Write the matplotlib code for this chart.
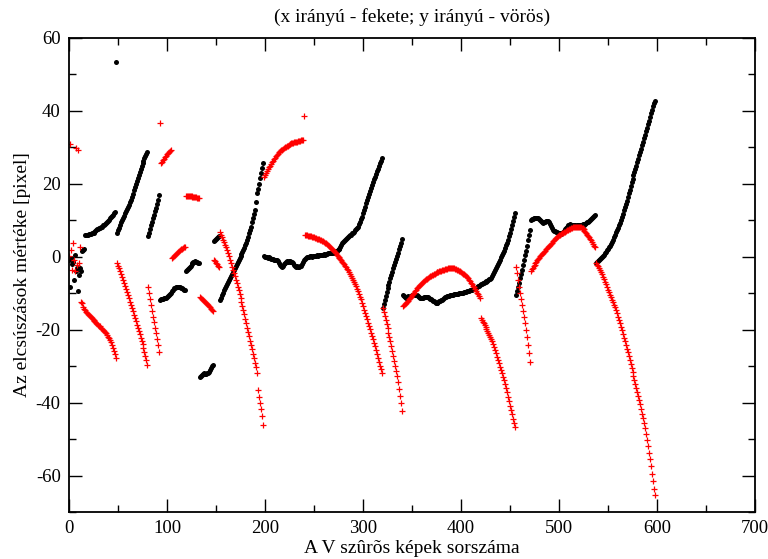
import numpy as np
import matplotlib
matplotlib.use("Agg")
import matplotlib.pyplot as plt
from matplotlib.ticker import MultipleLocator

# x offsets (black), one value per frame, split where the run breaks
x_start = [-1.0, -8.3, -0.4, -2.0, -1.3, -6.3, 0.5, -4.0, -3.0, -9.5, -5.0, -3.1, -4.0, 1.5, 1.8, 2.0]
x_b = [6.0, 6.0, 6.1, 6.1, 6.2, 6.2, 6.3, 6.4, 6.5, 6.6,
       6.8, 7.1, 7.4, 7.6, 7.7, 7.8, 7.9, 8.1, 8.3, 8.6,
       8.8, 9.1, 9.3, 9.6, 9.9, 10.2, 10.5, 10.9, 11.2, 11.5,
       11.9, 12.3]
x_spike = [53.5]
x_c = [6.6, 7.3, 8.0, 8.7, 9.4, 10.1, 10.7, 11.3, 11.9, 12.5,
       13.1, 13.7, 14.3, 14.9, 15.6, 16.4, 17.3, 18.2, 19.1, 20.0,
       20.9, 21.7, 22.5, 23.3, 24.1, 24.9, 25.7, 26.4, 27.1, 27.7,
       28.2, 28.6]
x_d = [5.6, 6.6, 7.6, 8.6, 9.6, 10.5, 11.5, 12.5, 13.5, 14.6, 15.7, 16.9]
x_e = [-11.8, -11.7, -11.6, -11.5, -11.4, -11.3, -11.2, -11.0, -10.7, -10.4,
       -10.1, -9.8, -9.4, -9.0, -8.7, -8.5, -8.4, -8.3, -8.2, -8.2,
       -8.3, -8.5, -8.7, -8.9, -9.0, -9.1]
x_f = [-3.9, -3.6, -3.3, -3.0, -2.7, -2.4, -2.1, -1.8, -1.5, -1.3, -1.2, -1.3, -1.5, -1.6, -1.7]
x_g = [-32.9, -32.6, -32.3, -32.2, -32.0, -32.1, -32.2, -32.0, -31.8, -31.5, -31.0, -30.5, -30.0, -29.6]
x_h = [4.2, 4.5, 4.8, 5.1, 5.4, 5.7]
x_i = [-11.8, -11.2, -10.5, -9.9, -9.2, -8.6, -8.0, -7.5, -6.9, -6.4,
       -5.8, -5.2, -4.7, -4.1, -3.6, -3.1, -2.6, -2.0, -1.5, -1.0,
       -0.4, 0.2, 0.7, 1.3, 1.9, 2.5, 3.2, 3.8, 4.5, 5.4,
       6.4, 7.3, 8.3, 9.4, 10.6, 11.7, 12.9, 14.9, 17.6, 18.7,
       19.9, 21.5, 23.0, 24.4, 25.7]
x_jk = [0.1, 0.0, -0.1, -0.2, -0.3, -0.2, -0.4, -0.6, -0.5, -0.7, -0.8,
        -0.8, -0.9, -0.8, -1.2, -1.8, -2.3, -2.6, -2.7, -2.4, -2.0,
        -1.6, -1.3, -1.2, -1.3, -1.1, -1.2, -1.4, -1.5, -1.5, -1.8,
        -2.2, -2.5, -2.7, -2.6, -2.8, -2.7, -2.5, -2.4, -1.9, -1.3,
        -0.8, -0.5, -0.3, -0.2, -0.1, 0.0, 0.1, 0.1, 0.0, 0.2,
        0.2, 0.3, 0.2, 0.4, 0.3, 0.5, 0.4, 0.6, 0.5, 0.6,
        0.7, 0.6, 0.8, 0.7, 0.9, 1.0, 0.9, 1.1, 1.0, 1.2,
        1.1, 1.3, 1.5, 1.6, 1.8, 2.0, 2.1, 2.6, 3.1, 3.7,
        4.0, 4.3, 4.6, 4.8, 5.1, 5.4, 5.7, 5.9, 6.1, 6.4,
        6.6, 6.9, 7.3, 7.6, 7.9, 8.3, 8.9, 9.6, 10.3, 11.0,
        11.9, 12.8, 13.7, 14.7, 15.7, 16.5, 17.3, 18.1, 18.9, 19.7,
        20.4, 21.2, 22.0, 22.7, 23.4, 24.1, 24.8, 25.6, 26.3, 27.1]
x_l = [-14.0, -12.9, -11.8, -10.7, -9.7, -8.7, -7.7, -6.8, -5.9, -5.0,
       -4.1, -3.2, -2.3, -1.4, -0.6, 0.2, 1.1, 2.0, 2.9, 3.8, 4.8]
x_mn = [-10.5, -10.8, -11.0, -11.2, -11.0, -10.8, -10.9, -10.9, -10.7, -10.5,
        -10.4, -10.3, -10.4, -10.5, -10.4, -10.7, -11.0, -11.3, -11.4, -11.4,
        -11.2, -11.0, -10.9, -10.9, -10.9, -11.1, -11.3, -11.5, -11.7, -11.8,
        -12.0, -12.2, -12.5, -12.6, -12.7, -12.6, -12.4, -12.2, -12.0, -11.9,
        -11.8, -11.5, -11.2, -11.0, -10.9, -10.8, -10.7, -10.7, -10.6, -10.5,
        -10.4, -10.4, -10.3, -10.3, -10.2, -10.2, -10.1, -10.0, -10.0, -9.9,
        -9.9, -9.8, -9.7, -9.6, -9.6, -9.5, -9.4, -9.3, -9.2, -9.1,
        -9.0, -8.9, -8.9, -8.7, -8.5, -8.3, -8.1, -7.9, -7.7, -7.5,
        -7.4, -7.2, -7.1, -7.0, -6.9, -6.7, -6.6, -6.4, -6.2, -6.1,
        -5.7, -5.2, -4.6, -4.1, -3.6, -3.1, -2.5, -1.9, -1.4, -0.8,
        -0.2, 0.5, 1.1, 1.7, 2.4, 3.1, 3.8, 4.7, 5.6, 6.5,
        7.6, 8.7, 9.8, 10.9, 12.0]
x_o = [-10.6, -9.5, -8.3, -7.1, -5.9, -4.7, -3.5, -2.2, -0.9, 0.4, 1.7, 3.0, 4.5, 6.0, 7.4]
x_p = [10.1, 10.3, 10.4, 10.5, 10.6, 10.6, 10.5, 10.6, 10.6, 10.3,
       10.0, 9.7, 9.4, 9.3, 9.4, 9.6, 9.7, 9.8, 9.7, 9.4,
       9.0, 8.5, 7.9, 7.4, 7.2, 7.0, 6.9, 6.7, 6.6, 6.5,
       6.4, 6.3, 6.4, 6.7, 7.1, 7.5, 7.9, 8.3, 8.6, 8.8,
       8.9, 8.8, 8.7, 8.8, 8.8, 8.6, 8.5, 8.6, 8.7, 8.8,
       8.8, 8.7, 8.8, 8.9, 8.8, 8.9, 9.1, 9.3, 9.5, 9.6,
       9.8, 10.0, 10.3, 10.6, 10.9, 11.2, 11.4]
x_q = [-1.7, -1.5, -1.2, -0.9, -0.6, -0.3, 0.0, 0.3, 0.6, 1.0,
       1.4, 1.8, 2.2, 2.6, 3.0, 3.5, 4.1, 4.7, 5.3, 6.0,
       6.7, 7.3, 8.0, 8.6, 9.3, 10.1, 10.9, 11.8, 12.7, 13.6,
       14.5, 15.4, 16.4, 17.4, 18.4, 19.4, 20.4, 21.3, 22.3, 23.2,
       24.1, 25.0, 25.9, 26.9, 27.8, 28.7, 29.6, 30.6, 31.5, 32.5,
       33.4, 34.4, 35.3, 36.3, 37.3, 38.3, 39.3, 40.3, 41.3, 42.1,
       42.6]

# y offsets (red)
y_start = [0.1, 30.8, 1.9, -3.6, 3.9, -1.0, -4.0, 29.8, -2.2, 29.4, -1.7, 2.8]
y_b = [-12.5, -12.8, -13.8, -14.3, -14.7, -15.1, -15.4, -15.7, -16.0, -16.3,
       -16.6, -16.9, -17.1, -17.3, -17.6, -17.9, -18.1, -18.4, -18.6, -18.9,
       -19.1, -19.4, -19.7, -20.0, -20.3, -20.6, -21.0, -21.4, -21.9, -22.4,
       -22.9, -23.4, -24.1, -24.9, -25.8, -26.8, -27.9]
y_c = [-1.6, -2.4, -3.2, -4.0, -4.8, -5.6, -6.4, -7.2, -8.0, -8.8,
       -9.6, -10.5, -11.4, -12.3, -13.2, -14.1, -15.0, -15.9, -16.8, -17.7,
       -18.6, -19.5, -20.4, -21.3, -22.2, -23.1, -24.0, -25.0, -26.1, -27.2,
       -28.4, -29.7]
y_d = [-8.2, -9.8, -11.6, -13.2, -14.8, -16.4, -18.0, -19.5, -21.0, -22.6, -24.3, -26.0]
y_spike1 = [36.8]
y_e = [25.7, 26.1, 26.5, 26.9, 27.3, 27.7, 28.1, 28.4, 28.8, 29.1, 29.4]
y_e2 = [-0.4, -0.1, 0.2, 0.5, 0.7, 1.0, 1.3, 1.5, 1.8, 2.0, 2.2, 2.4, 2.6, 2.7]
y_f = [16.8, 16.8, 16.8, 16.7, 16.7, 16.6, 16.6, 16.5, 16.5, 16.4, 16.4, 16.3, 16.2, 16.2, 16.1]
y_g = [-10.9, -11.2, -11.5, -11.8, -12.1, -12.4, -12.7, -13.0, -13.3, -13.6, -13.9, -14.2, -14.5, -14.9]
y_h = [-0.8, -1.2, -1.6, -2.0, -2.4, -2.7]
y_i = [6.8, 6.1, 5.4, 4.7, 4.0, 3.3, 2.6, 1.9, 1.0, 0.1,
       -0.8, -1.7, -2.7, -3.6, -4.5, -5.4, -6.3, -7.2, -8.2, -9.1,
       -10.1, -11.2, -12.3, -13.4, -14.6, -15.8, -17.0, -18.2, -19.4, -20.6,
       -21.8, -23.0, -24.2, -25.4, -26.6, -27.8, -29.0, -30.3, -31.8, -36.5,
       -38.4, -40.2, -41.8, -43.6, -46.2]
y_j = [22.0, 22.5, 23.0, 23.5, 24.0, 24.5, 25.0, 25.5, 26.0, 26.4,
       26.8, 27.2, 27.6, 28.0, 28.3, 28.6, 28.9, 29.2, 29.4, 29.6,
       29.8, 30.0, 30.2, 30.4, 30.5, 30.7, 30.8, 30.9, 31.1, 31.2,
       31.3, 31.4, 31.5, 31.5, 31.6, 31.7, 31.7, 31.8, 31.9, 32.0,
       32.1]
y_spike2 = [38.5]
y_k = [6.0, 5.9, 5.9, 5.8, 5.7, 5.7, 5.6, 5.5, 5.4, 5.3,
       5.2, 5.1, 5.0, 4.9, 4.8, 4.7, 4.6, 4.4, 4.3, 4.1,
       3.9, 3.7, 3.5, 3.3, 3.0, 2.7, 2.4, 2.1, 1.8, 1.5,
       1.2, 0.9, 0.6, 0.3, 0.0, -0.3, -0.6, -1.0, -1.3, -1.7,
       -2.1, -2.5, -2.9, -3.3, -3.7, -4.2, -4.7, -5.2, -5.7, -6.3,
       -6.9, -7.5, -8.1, -8.8, -9.5, -10.2, -10.9, -11.7, -12.6, -13.6,
       -14.5, -15.4, -16.3, -17.2, -18.1, -19.0, -19.9, -20.8, -21.7, -22.6,
       -23.6, -24.6, -25.7, -26.8, -27.9, -28.9, -29.9, -30.9, -31.9]
y_l = [-14.0, -15.1, -16.2, -17.3, -18.4, -19.6, -20.8, -22.0, -23.2, -24.5,
       -25.8, -27.1, -28.5, -29.9, -31.3, -32.8, -34.4, -36.2, -38.1, -40.2,
       -42.4]
y_m = [-13.5, -13.2, -12.9, -12.6, -12.3, -12.0, -11.7, -11.4, -11.0, -10.6,
       -10.2, -9.8, -9.4, -9.0, -8.6, -8.3, -8.0, -7.7, -7.4, -7.1,
       -6.9, -6.7, -6.4, -6.2, -6.0, -5.8, -5.6, -5.4, -5.2, -5.0,
       -4.9, -4.7, -4.6, -4.5, -4.3, -4.2, -4.1, -4.0, -3.9, -3.8,
       -3.7, -3.6, -3.5, -3.4, -3.3, -3.3, -3.2, -3.2, -3.1, -3.1,
       -3.1, -3.2, -3.2, -3.3, -3.4, -3.5, -3.7, -3.8, -4.0, -4.2,
       -4.4, -4.6, -4.8, -5.1, -5.3, -5.6, -5.9, -6.3, -6.7, -7.1,
       -7.5, -7.9, -8.3, -8.8, -9.3, -9.8, -10.3, -10.8, -11.3]
y_n = [-16.9, -17.3, -17.8, -18.3, -18.8, -19.3, -19.9, -20.4, -20.9, -21.5,
       -22.0, -22.6, -23.2, -23.9, -24.7, -25.6, -26.5, -27.4, -28.3, -29.2,
       -30.1, -31.0, -31.9, -32.9, -33.9, -35.0, -36.1, -37.2, -38.4, -39.6,
       -40.8, -42.0, -43.2, -44.4, -45.5, -46.6]
y_o = [-2.7, -4.5, -6.4, -8.2, -10.0, -11.6, -13.2, -14.8, -16.5, -18.2, -20.1, -22.1, -24.2, -26.5, -28.8]
y_p = [-3.8, -3.4, -3.0, -2.6, -2.2, -1.8, -1.4, -1.0, -0.6, -0.3,
       0.1, 0.4, 0.7, 1.0, 1.3, 1.7, 2.0, 2.4, 2.7, 3.0,
       3.3, 3.6, 3.9, 4.2, 4.5, 4.8, 5.1, 5.4, 5.7, 5.9,
       6.1, 6.3, 6.4, 6.5, 6.7, 6.9, 7.1, 7.3, 7.4, 7.6,
       7.7, 7.9, 8.0, 8.1, 8.2, 8.2, 8.3, 8.3, 8.3, 8.3,
       8.3, 8.2, 8.0, 7.8, 7.5, 7.2, 6.9, 6.5, 6.1, 5.7,
       5.3, 4.9, 4.5, 4.0, 3.5, 3.0, 2.6]
y_q = [-1.8, -2.2, -2.6, -3.1, -3.6, -4.2, -4.8, -5.5, -6.2, -6.9,
       -7.6, -8.3, -9.0, -9.7, -10.4, -11.1, -11.8, -12.5, -13.2, -13.9,
       -14.7, -15.5, -16.4, -17.3, -18.2, -19.2, -20.2, -21.2, -22.2, -23.2,
       -24.2, -25.2, -26.2, -27.2, -28.2, -29.3, -30.4, -31.5, -32.6, -33.7,
       -34.8, -35.9, -37.0, -38.1, -39.2, -40.4, -41.7, -43.0, -44.3, -45.6,
       -47.0, -48.6, -50.3, -52.0, -53.8, -55.6, -57.5, -59.5, -61.6, -63.6,
       -65.4]

x_shift = np.concatenate([x_start, x_b, x_spike, x_c, x_d, x_e, x_f, x_g, x_h, x_i,
                          x_jk, x_l, x_mn, x_o, x_p, x_q])
y_shift = np.concatenate([y_start, y_b, y_c, y_d, y_spike1, y_e, y_e2, y_f, y_g, y_h,
                          y_i, y_j, y_spike2, y_k, y_l, y_m, y_n, y_o, y_p, y_q])
assert len(x_shift) == 599 and len(y_shift) == 599
frames = np.arange(len(x_shift))

plt.rcParams['font.family'] = ['Liberation Serif', 'DejaVu Serif']
plt.rcParams['axes.unicode_minus'] = False

fig = plt.figure(figsize=(7.68, 5.59), dpi=100)
ax = fig.add_axes([69/768, 1 - 512/559, (755 - 69)/768, (512 - 38)/559])

ax.plot(frames, x_shift, 'o', color='black', ms=3.6, mew=0)
ax.plot(frames, y_shift, '+', color='#ff0000', ms=5, mew=0.9)

ax.set_xlim(0, 700)
ax.set_ylim(-70, 60)
ax.xaxis.set_major_locator(MultipleLocator(100))
ax.xaxis.set_minor_locator(MultipleLocator(50))
ax.yaxis.set_major_locator(MultipleLocator(20))
ax.yaxis.set_minor_locator(MultipleLocator(10))
ax.tick_params(which='both', direction='in', top=True, right=True, labelsize=13.5, width=1)
ax.tick_params(which='major', length=9.5, pad=6)
ax.tick_params(which='minor', length=5)
for s in ax.spines.values():
    s.set_linewidth(1.3)

ax.set_xlabel("A V szûrõs képek sorszáma", fontsize=14, labelpad=2)
ax.set_ylabel("Az elcsúszások mértéke [pixel]", fontsize=14, labelpad=3)
fig.text(412/768, 1 - 17/559, "(x irányú - fekete; y irányú - vörös)",
         ha='center', va='center', fontsize=14)

fig.savefig("out.png", dpi=100)
